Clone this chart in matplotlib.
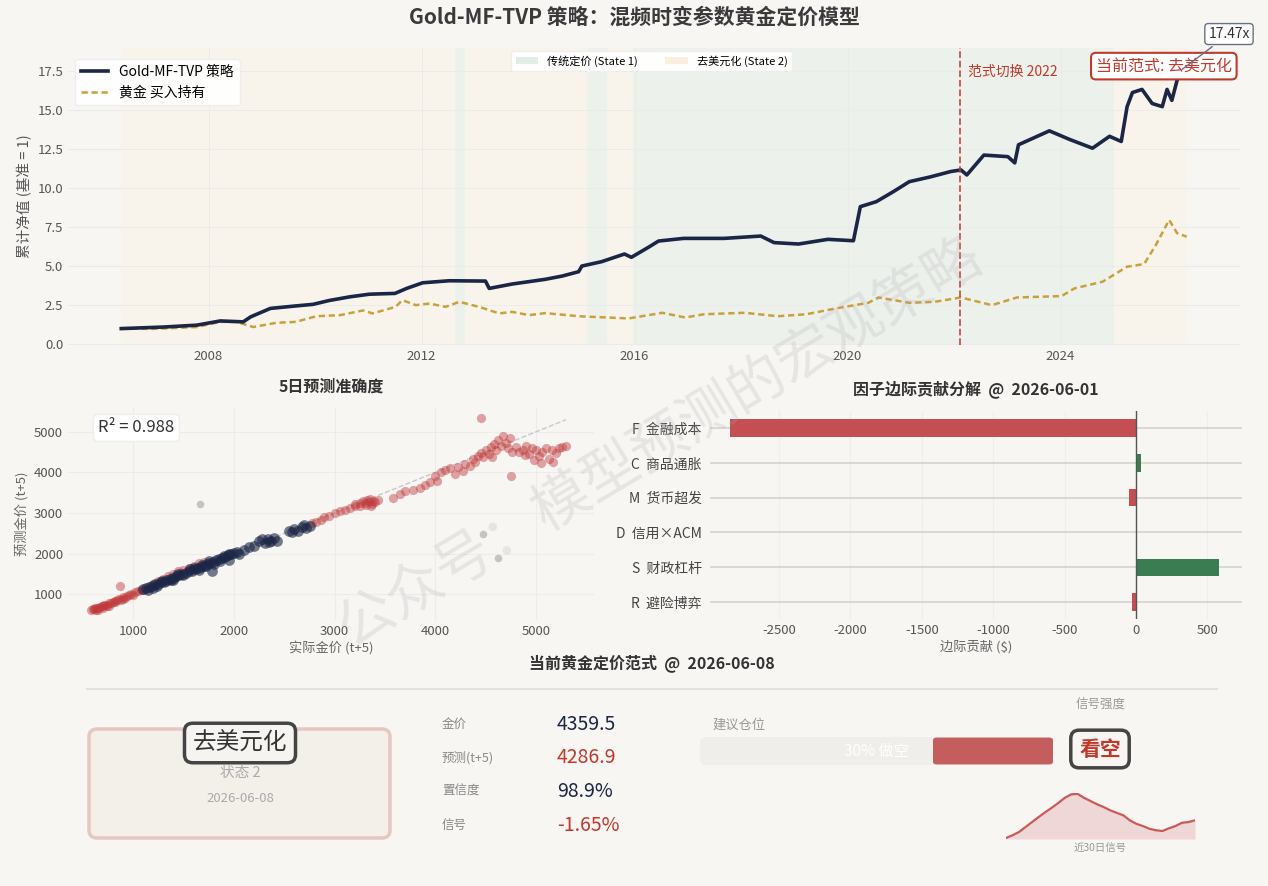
import numpy as np
import matplotlib
matplotlib.use("Agg")
import matplotlib.pyplot as plt
from matplotlib.patches import FancyBboxPatch, Patch
from matplotlib.lines import Line2D

plt.rcParams['font.family'] = ['Noto Sans CJK SC', 'DejaVu Sans']
plt.rcParams['axes.unicode_minus'] = False

# ---- data: cumulative NAV (decimal years) ----
strat_t = [2006.36, 2007.16, 2007.78, 2008.22, 2008.65, 2008.79, 2009.16, 2009.64, 2009.96, 2010.27,
           2010.65, 2011.02, 2011.50, 2011.72, 2012.02, 2012.52, 2013.20, 2013.27, 2013.70, 2014.32,
           2014.64, 2014.95, 2015.01, 2015.38, 2015.81, 2015.94, 2016.26, 2016.45, 2016.92, 2017.68,
           2018.37, 2018.62, 2019.08, 2019.63, 2020.11, 2020.24, 2020.54, 2020.86, 2021.16, 2021.55,
           2021.94, 2022.13, 2022.24, 2022.56, 2023.01, 2023.14, 2023.21, 2023.79, 2024.17, 2024.60,
           2024.92, 2025.14, 2025.25, 2025.35, 2025.53, 2025.72, 2025.91, 2026.00, 2026.09, 2026.19,
           2026.24]
strat_v = [1.00, 1.10, 1.22, 1.49, 1.43, 1.75, 2.29, 2.45, 2.55, 2.80,
           3.03, 3.20, 3.25, 3.57, 3.93, 4.06, 4.04, 3.57, 3.85, 4.15,
           4.36, 4.64, 5.00, 5.28, 5.77, 5.56, 6.20, 6.60, 6.77, 6.77,
           6.92, 6.50, 6.41, 6.71, 6.62, 8.80, 9.12, 9.76, 10.40, 10.70,
           11.05, 11.15, 10.83, 12.10, 12.00, 11.60, 12.76, 13.65, 13.10, 12.54,
           13.30, 12.97, 15.20, 16.10, 16.30, 15.40, 15.20, 16.30, 15.60, 16.90,
           17.47]

gold_t = [2006.36, 2006.97, 2007.78, 2008.22, 2008.52, 2008.84, 2009.27, 2009.64, 2010.02, 2010.47,
          2010.90, 2011.08, 2011.51, 2011.64, 2011.89, 2012.15, 2012.45, 2012.71, 2013.08, 2013.46,
          2013.70, 2014.02, 2014.32, 2014.95, 2015.89, 2016.26, 2016.52, 2016.95, 2017.31, 2018.07,
          2018.69, 2019.23, 2019.78, 2020.39, 2020.58, 2021.16, 2021.63, 2022.13, 2022.71, 2023.18,
          2024.02, 2024.26, 2024.79, 2025.25, 2025.57, 2025.79, 2026.04, 2026.19, 2026.37]
gold_v = [1.00, 0.98, 1.10, 1.43, 1.43, 1.10, 1.37, 1.43, 1.79, 1.86,
          2.16, 1.97, 2.39, 2.82, 2.50, 2.60, 2.39, 2.71, 2.39, 1.97,
          2.07, 1.86, 1.99, 1.79, 1.65, 1.86, 2.01, 1.71, 1.92, 2.01,
          1.79, 1.92, 2.29, 2.65, 2.99, 2.65, 2.71, 2.99, 2.50, 2.99,
          3.08, 3.57, 4.00, 4.96, 5.13, 6.35, 7.95, 7.10, 6.88]

# regime periods: (start, end, state)
regimes = [(2006.36, 2012.62, 2), (2012.62, 2012.82, 1), (2012.82, 2015.10, 2),
           (2015.10, 2015.48, 1), (2015.48, 2015.98, 2), (2015.98, 2025.01, 1),
           (2025.01, 2026.37, 2)]
switch_year = 2022.11

# ---- scatter: actual vs predicted (t+5) ----
red_pts = [(585, 610), (600, 625), (615, 640), (630, 620), (640, 660), (655, 650), (670, 690), (690, 700),
           (700, 670), (715, 730), (730, 740), (745, 720), (760, 780), (780, 790), (800, 810), (820, 800),
           (840, 850), (860, 870), (880, 860), (900, 920), (920, 900), (940, 950), (960, 980), (980, 1010),
           (1000, 990), (1020, 1050), (1050, 1070), (1080, 1110), (1100, 1090), (870, 1190), (760, 700),
           (650, 600), (620, 660), (700, 720), (820, 840), (900, 880),
           (1200, 1250), (1250, 1330), (1300, 1380), (1350, 1440), (1400, 1500), (1450, 1560), (1500, 1600),
           (1550, 1640), (1600, 1700), (1650, 1760), (1700, 1800), (1330, 1300), (1420, 1400),
           (2780, 2750), (2820, 2790), (2870, 2830), (2900, 2900), (2950, 2930), (3000, 3000), (3050, 3040),
           (3100, 3080), (3150, 3120), (3200, 3180), (3250, 3240), (3280, 3300), (3300, 3250), (3320, 3320),
           (3340, 3280), (3350, 3350), (3370, 3230), (3380, 3300), (3310, 3200), (3360, 3180), (3400, 3260),
           (3430, 3310), (3250, 3170), (3200, 3230),
           (3580, 3360), (3650, 3460), (3700, 3540), (3780, 3560), (3850, 3620), (3900, 3700), (3950, 3760),
           (4000, 3900), (4020, 3780), (4060, 4000), (4100, 4060), (4150, 4120), (4200, 3950), (4230, 4130),
           (4280, 4040), (4300, 4200), (4350, 4160),
           (4380, 4320), (4420, 4400), (4450, 4480), (4470, 4380), (4500, 4550), (4530, 4450), (4550, 4620),
           (4580, 4700), (4600, 4560), (4620, 4800), (4650, 4650), (4670, 4900), (4700, 4720), (4720, 4600),
           (4740, 4850), (4760, 4500), (4450, 5340), (4750, 3900), (4400, 4250), (4560, 4380),
           (4800, 4620), (4830, 4500), (4870, 4560), (4900, 4640), (4930, 4450), (4960, 4600), (5000, 4550),
           (5030, 4400), (5060, 4500), (5100, 4610), (5130, 4330), (5160, 4540), (5200, 4480), (5230, 4600),
           (5260, 4620), (5300, 4650), (5050, 4230), (4980, 4300), (5170, 4250), (4890, 4420)]
navy_pts = [(1100, 1120), (1130, 1150), (1160, 1170), (1190, 1200), (1220, 1240), (1250, 1260), (1280, 1290),
            (1310, 1300), (1340, 1350), (1370, 1380), (1400, 1410), (1430, 1440), (1460, 1470), (1490, 1500),
            (1520, 1520), (1550, 1560), (1580, 1580), (1610, 1620), (1640, 1640), (1670, 1680), (1700, 1700),
            (1730, 1740), (1760, 1770), (1790, 1800), (1820, 1830), (1850, 1860), (1880, 1890), (1910, 1920),
            (1940, 1960), (1970, 1980), (2000, 2010), (2030, 2050), (1200, 1160), (1290, 1330), (1380, 1340),
            (1500, 1460), (1560, 1610), (1650, 1600), (1720, 1700), (1800, 1750), (1860, 1820), (1900, 1950),
            (1950, 2000), (1750, 1820), (1680, 1720), (1600, 1650), (1450, 1500), (1400, 1360), (1150, 1100),
            (1240, 1200), (1780, 1560), (2100, 2100), (2150, 2150), (2200, 2180), (2250, 2300), (2280, 2350),
            (2310, 2250), (2340, 2360), (2370, 2300), (2400, 2380), (2430, 2320), (2350, 2280), (2550, 2550),
            (2600, 2600), (2640, 2560), (2680, 2650), (2720, 2620), (2760, 2680), (2580, 2520), (2700, 2700),
            (1950, 1850), (2050, 1980)]
gray_pts = [(1665, 3230), (4470, 2490), (4620, 1880)]
r2 = 0.988

# ---- factor contributions ----
factors = ["F  金融成本", "C  商品通胀", "M  货币超发", "D  信用×ACM", "S  财政杠杆", "R  避险博弈"]
contrib = [-2840, 35, -50, 2, 580, -28]

# ---- current regime card ----
price_now = 4359.5
pred_t5 = 4286.9
confidence = 98.9
signal = -1.65
position = 0.30
spark = [0.04, 0.15, 0.28, 0.48, 0.68, 0.88, 1.07, 1.25, 1.44, 1.65, 1.79, 1.81, 1.65, 1.52, 1.39,
         1.28, 1.15, 1.05, 0.95, 0.75, 0.61, 0.52, 0.41, 0.35, 0.32, 0.43, 0.52, 0.65, 0.68, 0.75]

BG = "#f7f6f3"
NAVY = "#1b2646"
GOLD = "#c9a03a"
RED = "#c0392b"
W, H = 1268, 886

fig = plt.figure(figsize=(W / 100, H / 100), dpi=100, facecolor=BG)


def px_axes(l, t, r, b):
    return fig.add_axes([l / W, 1 - b / H, (r - l) / W, (b - t) / H])


def clean(ax):
    ax.set_facecolor(BG)
    for s in ax.spines.values():
        s.set_visible(False)
    ax.tick_params(length=0, labelsize=9.5, colors="#555")


fig.suptitle("Gold-MF-TVP 策略：混频时变参数黄金定价模型", y=1 - 17 / H, va="center",
             fontsize=15, fontweight="bold", color="#3a3a3a")

# ---------------- top: NAV ----------------
ax = px_axes(68, 48, 1240, 345)
clean(ax)
for a, b, s in regimes:
    ax.axvspan(a, b, color="#e9f0ea" if s == 1 else "#fbf4e8", alpha=0.7, lw=0, zorder=0)
ax.plot(strat_t, strat_v, color=NAVY, lw=2.6, zorder=3)
ax.plot(gold_t, gold_v, color=GOLD, lw=1.8, ls=(0, (2.5, 1.5)), zorder=2)
ax.set_xlim(2005.36, 2027.37)
ax.set_ylim(-0.05, 18.95)
ax.set_xticks([2008, 2012, 2016, 2020, 2024])
ax.set_yticks(np.arange(0, 17.6, 2.5))
ax.grid(color="#ebebeb", lw=0.8, zorder=1)
ax.set_ylabel("累计净值 (基准 = 1)", fontsize=10.5, color="#555")
ax.axvline(switch_year, color=RED, ls="--", lw=1.3, alpha=0.85, zorder=4)
ax.text(switch_year + 0.15, 17.45, "范式切换 2022", color=RED, fontsize=10, va="center", ha="left")
ax.text(0.935, 0.939, "当前范式: 去美元化", transform=ax.transAxes, ha="center", va="center",
        fontsize=11.5, color=RED, zorder=6,
        bbox=dict(boxstyle="round,pad=0.3", fc="white", ec=RED, lw=1.5))
ax.annotate(f"{strat_v[-1]:.2f}x", xy=(strat_t[-1], strat_v[-1]), xytext=(0.9906, 1.047),
            textcoords="axes fraction", ha="center", va="center", fontsize=10, color="#333",
            annotation_clip=False, zorder=6,
            bbox=dict(boxstyle="round,pad=0.25", fc="white", ec="#66708a", lw=1),
            arrowprops=dict(arrowstyle="-", color="#66708a", lw=1))
leg1 = ax.legend(handles=[Line2D([], [], color=NAVY, lw=2.6, label="Gold-MF-TVP 策略"),
                          Line2D([], [], color=GOLD, lw=1.8, ls=(0, (2.5, 1.5)), label="黄金 买入持有")],
                 loc="upper left", bbox_to_anchor=(0.0, 0.985), fontsize=10, frameon=True,
                 facecolor="white", edgecolor="#eeeeee", framealpha=0.95)
ax.add_artist(leg1)
ax.legend(handles=[Patch(fc="#e4ece6", label="传统定价 (State 1)"),
                   Patch(fc="#fbeedd", label="去美元化 (State 2)")],
          loc="upper center", bbox_to_anchor=(0.498, 1.01), ncol=2, fontsize=8, frameon=True,
          facecolor="white", edgecolor="#eeeeee", framealpha=0.95, columnspacing=2.5)

# ---------------- scatter ----------------
axs = px_axes(68, 408, 594, 620)
clean(axs)
rp = np.array(red_pts)
npt = np.array(navy_pts)
gp = np.array(gray_pts)
axs.scatter(rp[:, 0], rp[:, 1], s=44, color="#c0393b", alpha=0.45, lw=0, zorder=3)
axs.scatter(npt[:, 0], npt[:, 1], s=60, color=NAVY, alpha=0.6, lw=0, zorder=4)
axs.scatter(gp[:, 0], gp[:, 1], s=30, color="#888888", alpha=0.45, lw=0, zorder=3)
allx = np.concatenate([rp[:, 0], npt[:, 0]])
lo, hi = allx.min(), allx.max()
axs.plot([lo, hi], [lo, hi], color="#c8c8c8", ls="--", lw=1, zorder=2)
axs.set_xlim(353, 5577)
axs.set_ylim(363, 5587)
axs.set_xticks([1000, 2000, 3000, 4000, 5000])
axs.set_yticks([1000, 2000, 3000, 4000, 5000])
axs.grid(color="#ececec", lw=0.8, zorder=0)
axs.set_xlabel("实际金价 (t+5)", fontsize=9.5, color="#666", labelpad=2)
axs.set_ylabel("预测金价 (t+5)", fontsize=9.5, color="#666")
axs.set_title("5日预测准确度", fontsize=11.5, fontweight="bold", color="#333", pad=12)
axs.text(0.13, 0.906, f"R² = {r2:.3f}", transform=axs.transAxes, ha="center", va="center",
         fontsize=12, color="#333", bbox=dict(boxstyle="round,pad=0.3", fc="white", ec="#eeeeee"))

# ---------------- factor bars ----------------
axb = px_axes(710, 410.6, 1242, 619.4)
clean(axb)
ypos = np.arange(len(factors))
cols = ["#3a7d52" if v > 0 else "#c44e52" for v in contrib]
axb.barh(ypos, contrib, height=0.5, color=cols, zorder=3)
axb.set_yticks(ypos)
axb.set_yticklabels(factors, fontsize=10, color="#444")
axb.set_ylim(5.5, -0.5)
axb.set_xlim(-2983, 742)
axb.set_xticks([-2500, -2000, -1500, -1000, -500, 0, 500])
axb.grid(axis="y", color="#d2d2d2", lw=1.2, zorder=0)
axb.grid(axis="x", color="#eeeeee", lw=0.8, zorder=0)
axb.axvline(0, color="#555", lw=1, zorder=4)
axb.tick_params(axis="y", pad=6)
axb.set_xlabel("边际贡献 (\\$)", fontsize=9.5, color="#666", labelpad=2)
axb.set_title("因子边际贡献分解  @  2026-06-01", fontsize=11.5, fontweight="bold", color="#333", pad=12)

# ---------------- bottom card ----------------
ov = px_axes(0, 0, W, H)
ov.set_xlim(0, W)
ov.set_ylim(H, 0)
ov.axis("off")
ov.patch.set_alpha(0)
ov.text(652, 663, "当前黄金定价范式  @  2026-06-08", ha="center", va="center",
        fontsize=11.5, fontweight="bold", color="#333")
ov.plot([87, 1217], [689, 689], color="#dddddd", lw=1.2)
ov.add_patch(FancyBboxPatch((89, 729), 301, 109, boxstyle="round,pad=0,rounding_size=8",
                            fc="#f3efe9", ec="#e8c6c4", lw=2.5))
ov.text(240, 743, "去美元化", ha="center", va="center", fontsize=17, color="#333", zorder=5,
        bbox=dict(boxstyle="round,pad=0.35", fc="#f6f4f0", ec="#444444", lw=2.5))
ov.text(240, 773, "状态 2", ha="center", va="center", fontsize=10.5, color="#aaaaaa")
ov.text(240, 799, "2026-06-08", ha="center", va="center", fontsize=9.5, color="#aaaaaa")

labels = ["金价", "预测(t+5)", "置信度", "信号"]
values = [f"{price_now:.1f}", f"{pred_t5:.1f}", f"{confidence:.1f}%", f"{signal:.2f}%"]
vcols = [NAVY, RED, NAVY, RED]
for i, (lb, vv, cc) in enumerate(zip(labels, values, vcols)):
    yy = 724 + i * 33.7
    ov.text(442, yy, lb, ha="left", va="center", fontsize=9, color="#888")
    ov.text(557, yy, vv, ha="left", va="center", fontsize=14, color=cc)

ov.text(712, 725, "建议仓位", ha="left", va="center", fontsize=9.5, color="#999")
axp = px_axes(700, 737, 1053, 765)
axp.axis("off")
axp.set_xlim(0, 1)
axp.set_ylim(0, 1)
axp.add_patch(FancyBboxPatch((0, 0), 1, 1, boxstyle="round,pad=0,rounding_size=0.02",
                             fc="#efeeea", ec="none", mutation_aspect=10))
axp.add_patch(FancyBboxPatch((1 - position - 0.04, 0.02), position + 0.04, 0.96,
                             boxstyle="round,pad=0,rounding_size=0.01", fc="#c45e5e", ec="none",
                             mutation_aspect=10))
axp.text(0.5, 0.5, f"{position * 100:.0f}% 做空", ha="center", va="center", fontsize=11, color="white")

ov.text(1101, 705, "信号强度", ha="center", va="center", fontsize=9, color="#999")
ov.text(1100, 749, "看空", ha="center", va="center", fontsize=15, fontweight="bold", color=RED,
        bbox=dict(boxstyle="round,pad=0.4", fc=BG, ec="#444444", lw=2.5))
axk = px_axes(1006, 793, 1195, 839)
axk.axis("off")
xs = np.arange(len(spark))
axk.fill_between(xs, spark, 0, color="#e8c3c3", alpha=0.6, lw=0)
axk.plot(xs, spark, color="#c85a5a", lw=1.6)
axk.set_xlim(0, len(spark) - 1)
axk.set_ylim(0, max(spark) * 1.02)
ov.text(1100, 848, "近30日信号", ha="center", va="center", fontsize=7.5, color="#999")

# watermark
fig.text(0.52, 0.5, "公众号：模型预测的宏观策略", ha="center", va="center", rotation=31,
         fontsize=41, color="#aaaaaa", alpha=0.22, zorder=20)

fig.savefig("out.png", dpi=100, facecolor=BG)
